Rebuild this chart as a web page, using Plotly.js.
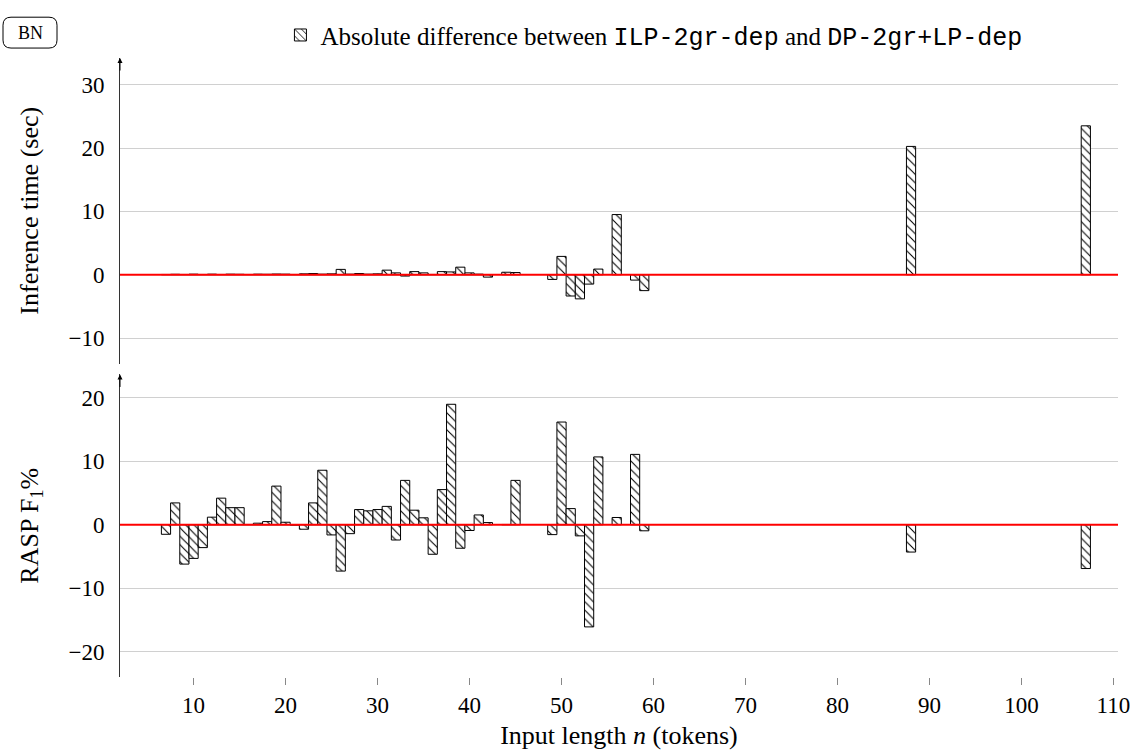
<!DOCTYPE html>
<html>
<head>
<meta charset="utf-8">
<script src="https://cdn.plot.ly/plotly-3.0.1.min.js"></script>
<style>html,body{margin:0;padding:0;background:#fff;}</style>
</head>
<body>
<div id="chart" style="width:1140px;height:755px;"></div>
<script>
// Input lengths n (tokens)
const lengths = [7,8,9,10,11,12,13,14,15,16,17,18,19,20,21,22,23,24,25,26,27,28,29,30,31,32,33,34,35,36,37,38,39,40,41,42,44,45,49,50,51,52,53,54,56,58,59,88,107];
// Absolute difference of inference time (sec)
const timeDiff = [0.05,0.08,0.05,0.1,0.05,0.1,0.05,0.1,0.08,0.05,0.1,0.08,0.12,0.1,0.05,0.15,0.2,0.1,0.15,0.85,0.1,0.2,0.1,0.15,0.73,0.3,-0.2,0.5,0.3,0.05,0.5,0.45,1.2,0.3,0.1,-0.37,0.4,0.35,-0.73,2.9,-3.35,-3.8,-1.47,0.9,9.5,-0.84,-2.5,20.25,23.5];
// Absolute difference of RASP F1 %
const f1Diff = [-1.5,3.45,-6.2,-5.3,-3.6,1.2,4.2,2.7,2.7,0.05,0.25,0.5,6.1,0.4,-0.05,-0.7,3.45,8.6,-1.6,-7.3,-1.4,2.4,2.2,2.4,2.9,-2.4,7.0,2.3,1.1,-4.65,5.55,19.0,-3.7,-0.9,1.55,0.35,0.05,7.0,-1.55,16.2,2.55,-1.75,-16.1,10.7,1.15,11.1,-0.95,-4.3,-6.9];
const xTicks = [10,20,30,40,50,60,70,80,90,100,110];
const legendLabel = 'Absolute difference between <span style="font-family:\'Liberation Mono\'">ILP-2gr-dep</span> and <span style="font-family:\'Liberation Mono\'">DP-2gr+LP-dep</span>';

const SERIF = '"Liberation Serif", "DejaVu Serif", serif';
const L = 120, R = 1118, T = 55, B = 677;
const W = R - L, H = B - T;
const px = v => (v - L) / W;
const py = v => (B - v) / H;

const barStyle = {
  color: '#ffffff',
  line: {color: '#000000', width: 1},
  pattern: {shape: '\\', fgcolor: '#000000', bgcolor: '#ffffff', size: 6, solidity: 0.18}
};

const traces = [
  {type: 'bar', x: lengths, y: timeDiff, xaxis: 'x2', yaxis: 'y2', width: 1,
   marker: barStyle, name: legendLabel, showlegend: true, hoverinfo: 'x+y'},
  {type: 'bar', x: lengths, y: f1Diff, xaxis: 'x', yaxis: 'y', width: 1,
   marker: barStyle, name: legendLabel, showlegend: false, hoverinfo: 'x+y'}
];

// rounded box for "BN"
const bx0 = px(3), bx1 = px(57), byT = py(14), byB = py(45);
const rx = 8 / W, ry = 8 / H;
const boxPath = `M ${bx0+rx},${byT} L ${bx1-rx},${byT} Q ${bx1},${byT} ${bx1},${byT-ry} L ${bx1},${byB+ry} Q ${bx1},${byB} ${bx1-rx},${byB} L ${bx0+rx},${byB} Q ${bx0},${byB} ${bx0},${byB+ry} L ${bx0},${byT-ry} Q ${bx0},${byT} ${bx0+rx},${byT} Z`;

const xr = [2, 110.5];
const topDomain = [py(362), 1];
const botDomain = [0, py(373)];

const layout = {
  width: 1140, height: 755,
  margin: {l: L, r: 1140 - R, t: T, b: 755 - B},
  paper_bgcolor: '#ffffff', plot_bgcolor: '#ffffff',
  font: {family: SERIF, size: 23, color: '#000'},
  bargap: 0,
  showlegend: true,
  legend: {orientation: 'h', x: 0.535, xanchor: 'center', y: py(9), yanchor: 'top',
           font: {family: SERIF, size: 25, color: '#000'}, bgcolor: 'rgba(0,0,0,0)'},
  xaxis: {domain: [0, 1], range: xr, anchor: 'y', tickvals: xTicks,
          ticks: 'outside', ticklen: 7, tickcolor: '#888', showline: false, showgrid: false, zeroline: false,
          tickfont: {family: SERIF, size: 23},
          title: {text: 'Input length <i>n</i> (tokens)', font: {family: SERIF, size: 26}, standoff: 9}},
  yaxis: {domain: botDomain, range: [-24, 23.7], anchor: 'x', tickvals: [-20,-10,0,10,20],
          showline: true, linecolor: '#333', linewidth: 1, showgrid: true, gridcolor: '#d0d0d0', gridwidth: 1,
          zeroline: false, ticks: 'outside', ticklen: 10, tickcolor: 'rgba(0,0,0,0)',
          tickfont: {family: SERIF, size: 23},
          title: {text: 'RASP F<sub>1</sub>%', font: {family: SERIF, size: 26}, standoff: 22}},
  xaxis2: {domain: [0, 1], range: xr, anchor: 'y2', matches: 'x', showticklabels: false, ticks: '',
           showline: false, showgrid: false, zeroline: false},
  yaxis2: {domain: topDomain, range: [-14, 34.2], anchor: 'x2', tickvals: [-10,0,10,20,30],
           showline: true, linecolor: '#333', linewidth: 1, showgrid: true, gridcolor: '#d0d0d0', gridwidth: 1,
           zeroline: false, ticks: 'outside', ticklen: 10, tickcolor: 'rgba(0,0,0,0)',
           tickfont: {family: SERIF, size: 23},
           title: {text: 'Inference time (sec)', font: {family: SERIF, size: 26}, standoff: 22}},
  shapes: [
    {type: 'line', xref: 'x', yref: 'y', x0: xr[0], x1: xr[1], y0: 0, y1: 0,
     line: {color: '#ff0000', width: 2}, layer: 'above'},
    {type: 'line', xref: 'x2', yref: 'y2', x0: xr[0], x1: xr[1], y0: 0, y1: 0,
     line: {color: '#ff0000', width: 2}, layer: 'above'},
    {type: 'path', xref: 'paper', yref: 'paper', path: boxPath, line: {color: '#000', width: 1}, fillcolor: 'rgba(0,0,0,0)'}
  ],
  annotations: [
    {xref: 'paper', yref: 'paper', x: px(30), y: py(30), text: 'BN', showarrow: false,
     xanchor: 'center', yanchor: 'middle', font: {family: SERIF, size: 18, color: '#000'}},
    {xref: 'paper', yref: 'paper', x: 0, y: 1, ax: 0, ay: 14, axref: 'pixel', ayref: 'pixel', text: '',
     showarrow: true, arrowhead: 2, arrowsize: 1, arrowwidth: 1, arrowcolor: '#000'},
    {xref: 'paper', yref: 'paper', x: 0, y: botDomain[1], ax: 0, ay: 14, axref: 'pixel', ayref: 'pixel', text: '',
     showarrow: true, arrowhead: 2, arrowsize: 1, arrowwidth: 1, arrowcolor: '#000'}
  ]
};

Plotly.newPlot('chart', traces, layout, {displayModeBar: false, staticPlot: true});
</script>
</body>
</html>
